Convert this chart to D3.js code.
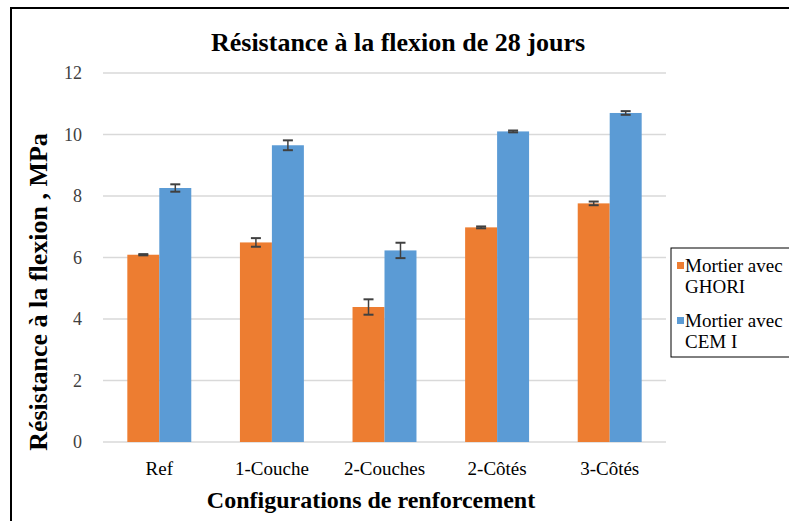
<!DOCTYPE html>
<html>
<head>
<meta charset="utf-8">
<script src="https://cdn.jsdelivr.net/npm/d3@7"></script>
<style>
  body { margin: 0; background: #fff; }
</style>
</head>
<body>
<svg id="chart" width="789" height="521"></svg>
<script>
var categories = ['Ref', '1-Couche', '2-Couches', '2-Côtés', '3-Côtés'];
var seriesNames = ['Mortier avec GHORI', 'Mortier avec CEM I'];
var ghori = [6.09, 6.49, 4.39, 6.98, 7.76];
var ghoriErr = [0.02, 0.14, 0.25, 0.03, 0.06];
var cem = [8.26, 9.65, 6.23, 10.1, 10.7];
var cemErr = [0.12, 0.16, 0.25, 0.03, 0.06];
var yTicks = [0, 2, 4, 6, 8, 10, 12];
var colors = ['#ed7d31', '#5b9bd5'];
var FONT = "'Liberation Serif', 'Times New Roman', Times, serif";

var svg = d3.select('#chart');
var margin = { left: 103, right: 123, top: 73, bottom: 79 };
var width = 789 - margin.left - margin.right;
var height = 521 - margin.top - margin.bottom;

// chart frame
svg.append('rect')
  .attr('x', 11).attr('y', 8)
  .attr('width', 800).attr('height', 600)
  .attr('fill', 'none').attr('stroke', '#000').attr('stroke-width', 2);

var g = svg.append('g').attr('transform', 'translate(' + margin.left + ',' + margin.top + ')');

var x = d3.scaleBand().domain(categories).range([0, width]).paddingInner(0.432).paddingOuter(0.216);
var x1 = d3.scaleBand().domain([0, 1]).range([0, x.bandwidth()]);
var y = d3.scaleLinear().domain([0, 12]).range([height, 0]);

// gridlines
g.append('g').selectAll('line').data(yTicks).enter().append('line')
  .attr('x1', 0).attr('x2', width)
  .attr('y1', function (d) { return y(d); }).attr('y2', function (d) { return y(d); })
  .attr('stroke', '#d9d9d9').attr('stroke-width', 1.5);

// y axis labels
var yAxis = g.append('g').call(d3.axisLeft(y).tickValues(yTicks).tickSize(0).tickPadding(21));
yAxis.select('.domain').remove();
yAxis.selectAll('text').style('font-family', FONT).style('font-size', '18px').attr('fill', '#404040');

// x axis labels
var xAxis = g.append('g').attr('transform', 'translate(0,' + height + ')')
  .call(d3.axisBottom(x).tickSize(0).tickPadding(20));
xAxis.select('.domain').remove();
xAxis.selectAll('text').style('font-family', FONT).style('font-size', '19px').attr('fill', '#000');

var data = categories.map(function (c, i) {
  return { cat: c, vals: [{ s: 0, v: ghori[i], e: ghoriErr[i] }, { s: 1, v: cem[i], e: cemErr[i] }] };
});

var groups = g.append('g').selectAll('g').data(data).enter().append('g')
  .attr('transform', function (d) { return 'translate(' + x(d.cat) + ',0)'; });

groups.selectAll('rect').data(function (d) { return d.vals; }).enter().append('rect')
  .attr('x', function (d) { return x1(d.s); })
  .attr('width', x1.bandwidth())
  .attr('y', function (d) { return y(d.v); })
  .attr('height', function (d) { return height - y(d.v); })
  .attr('fill', function (d) { return colors[d.s]; });

// error bars
var eb = groups.selectAll('g.err').data(function (d) { return d.vals; }).enter().append('g').attr('class', 'err');
eb.append('line')
  .attr('x1', function (d) { return x1(d.s) + x1.bandwidth() / 2; })
  .attr('x2', function (d) { return x1(d.s) + x1.bandwidth() / 2; })
  .attr('y1', function (d) { return y(d.v + d.e); })
  .attr('y2', function (d) { return y(d.v - d.e); })
  .attr('stroke', '#404040').attr('stroke-width', 1.5);
[1, -1].forEach(function (sgn) {
  eb.append('line')
    .attr('x1', function (d) { return x1(d.s) + x1.bandwidth() / 2 - 5; })
    .attr('x2', function (d) { return x1(d.s) + x1.bandwidth() / 2 + 5; })
    .attr('y1', function (d) { return y(d.v + sgn * d.e); })
    .attr('y2', function (d) { return y(d.v + sgn * d.e); })
    .attr('stroke', '#404040').attr('stroke-width', 2);
});

// title
svg.append('text').attr('x', 398).attr('y', 51).attr('text-anchor', 'middle')
  .style('font-family', FONT).style('font-size', '26px').style('font-weight', 'bold')
  .text('Résistance à la flexion de 28 jours');

// axis titles
svg.append('text').attr('x', 371).attr('y', 508).attr('text-anchor', 'middle')
  .style('font-family', FONT).style('font-size', '24px').style('font-weight', 'bold')
  .text('Configurations de renforcement');
svg.append('text').attr('transform', 'translate(47,292) rotate(-90)').attr('text-anchor', 'middle')
  .style('font-family', FONT).style('font-size', '26px').style('font-weight', 'bold')
  .text('Résistance à la flexion , MPa');

// legend
var leg = svg.append('g');
leg.append('rect').attr('x', 671).attr('y', 248).attr('width', 140).attr('height', 109)
  .attr('fill', '#fff').attr('stroke', '#000').attr('stroke-width', 1);
var lines = [['Mortier avec', 'GHORI'], ['Mortier avec', 'CEM I']];
seriesNames.forEach(function (n, i) {
  var yy = 272 + i * 55;
  leg.append('rect').attr('x', 677).attr('y', yy - 10).attr('width', 7).attr('height', 7).attr('fill', colors[i]);
  lines[i].forEach(function (t, j) {
    leg.append('text').attr('x', 685).attr('y', yy + j * 21)
      .style('font-family', FONT).style('font-size', '19px').attr('fill', '#000').text(t);
  });
});
</script>
</body>
</html>
